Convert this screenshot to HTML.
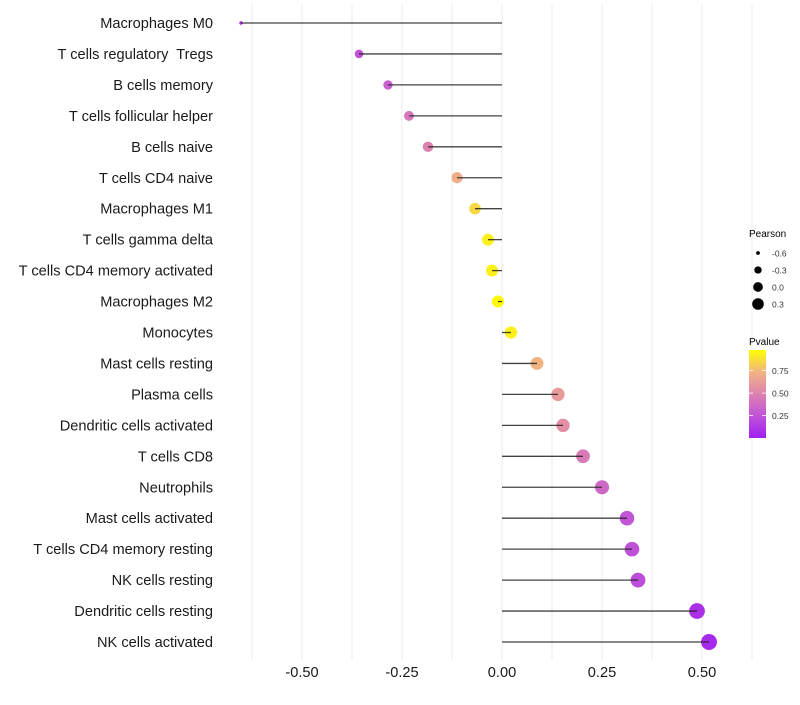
<!DOCTYPE html>
<html><head><meta charset="utf-8"><style>
body{margin:0;background:#fff;font-family:"Liberation Sans",sans-serif}
svg text{font-family:"Liberation Sans",sans-serif;white-space:pre}
</style></head><body>
<svg id="chart" width="800" height="700" xmlns="http://www.w3.org/2000/svg">
<defs><linearGradient id="pg" x1="0" y1="1" x2="0" y2="0">
<stop offset="0" stop-color="#A020F0"/><stop offset="0.25" stop-color="#C053D8"/><stop offset="0.5" stop-color="#DD82B0"/><stop offset="0.75" stop-color="#F2B383"/><stop offset="1" stop-color="#FFFF00"/></linearGradient></defs>
<g id="grid"></g><g id="marks"></g><g id="ylabels"></g><g id="xlabels"></g>
<g>
<text x="749" y="237" font-size="10" fill="#000">Pearson</text>
<g id="sizeleg"></g>
<text x="749" y="345" font-size="10" fill="#000">Pvalue</text>
<rect x="749" y="350" width="17" height="88" fill="url(#pg)"/>
<g id="colleg"></g>
</g>
</svg>
<script>
const categories=["Macrophages M0","T cells regulatory  Tregs","B cells memory","T cells follicular helper","B cells naive","T cells CD4 naive","Macrophages M1","T cells gamma delta","T cells CD4 memory activated","Macrophages M2","Monocytes","Mast cells resting","Plasma cells","Dendritic cells activated","T cells CD8","Neutrophils","Mast cells activated","T cells CD4 memory resting","NK cells resting","Dendritic cells resting","NK cells activated"];
const pearson=[-0.6525,-0.3575,-0.285,-0.2325,-0.185,-0.1125,-0.0675,-0.035,-0.025,-0.01,0.0225,0.0875,0.14,0.1525,0.2025,0.25,0.3125,0.325,0.34,0.4875,0.5175];
const pvalue=[0.05,0.25,0.32,0.44,0.5,0.72,0.87,0.95,0.95,0.98,0.95,0.75,0.62,0.56,0.46,0.36,0.26,0.24,0.22,0.08,0.05];
const xTicks=[-0.5,-0.25,0,0.25,0.5];
const xTickLabels=["-0.50","-0.25","0.00","0.25","0.50"];
const sizeLegendVals=[-0.6,-0.3,0.0,0.3];
const sizeLegendLabels=["-0.6","-0.3","0.0","0.3"];
const colorLegendVals=[0.25,0.5,0.75];
const colorLegendLabels=["0.25","0.50","0.75"];
const NS="http://www.w3.org/2000/svg";
const xs=v=>502+400*v;
const ys=i=>23+i*30.95;
const rs=v=>Math.sqrt(Math.max(1.5,3+52*(v+0.65)));
const cs=p=>350+88*(1-p/0.98);
const stops=[[0,[160,32,240]],[0.25,[192,83,216]],[0.5,[221,130,176]],[0.75,[242,179,131]],[1,[255,255,0]]];
function col(p){p=Math.min(1,Math.max(0,p));for(let k=1;k<stops.length;k++){if(p<=stops[k][0]){const a=stops[k-1],b=stops[k];const t=(p-a[0])/(b[0]-a[0]);return "rgb("+a[1].map((c,j)=>Math.round(c+(b[1][j]-c)*t)).join(",")+")";}}}
function mk(tag,attrs,parent){const e=document.createElementNS(NS,tag);for(const k in attrs)e.setAttribute(k,attrs[k]);document.getElementById(parent).appendChild(e);return e;}
for(let g=-0.625;g<=0.63;g+=0.125){const l=mk("line",{x1:xs(g),x2:xs(g),y1:5,y2:660,stroke:"#ebebeb","stroke-width":1},"grid");

}
categories.forEach((c,i)=>{
const y=ys(i);
const pt=mk("circle",{cx:xs(pearson[i]),cy:y,r:rs(pearson[i]),fill:col(pvalue[i])},"marks");


const ln=mk("line",{x1:xs(0),x2:xs(pearson[i]),y1:y,y2:y,stroke:"#222","stroke-width":1.3,"stroke-opacity":0.85},"marks");


const t=mk("text",{x:213,y:y+5,"text-anchor":"end","font-size":14.6,fill:"#1a1a1a"},"ylabels");
t.textContent=c;


});
xTicks.forEach((v,i)=>{const t=mk("text",{x:xs(v),y:677,"text-anchor":"middle","font-size":14.6,fill:"#1a1a1a"},"xlabels");
t.textContent=xTickLabels[i];

});
sizeLegendVals.forEach((v,i)=>{const y=253+i*17;
const c=mk("circle",{cx:758,cy:y,r:rs(v)*0.8,fill:"#000"},"sizeleg");


const t=mk("text",{x:772,y:y+3.5,"font-size":8.5,fill:"#333"},"sizeleg");
t.textContent=sizeLegendLabels[i];

});
colorLegendVals.forEach((v,i)=>{const y=cs(v);
const tk=mk("line",{x1:749,x2:753,y1:y,y2:y,stroke:"#fff","stroke-width":0.8},"colleg");


const tk2=mk("line",{x1:762,x2:766,y1:y,y2:y,stroke:"#fff","stroke-width":0.8},"colleg");


const t=mk("text",{x:772,y:y+3.5,"font-size":8.5,fill:"#333"},"colleg");
t.textContent=colorLegendLabels[i];

});
</script>
</body></html>
